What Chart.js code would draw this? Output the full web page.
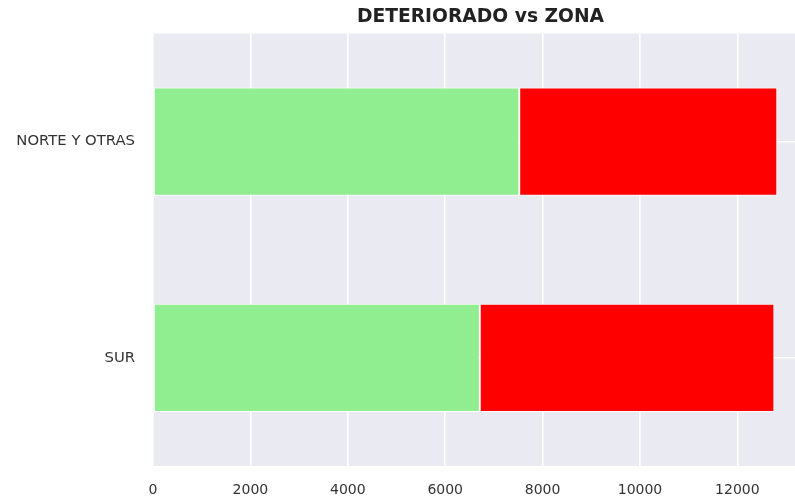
<!DOCTYPE html>
<html>
<head>
<meta charset="utf-8">
<script src="https://cdn.jsdelivr.net/npm/chart.js@4"></script>
<style>
  html, body { margin: 0; padding: 0; background: #ffffff; overflow: hidden; }
  #wrap { width: 795px; height: 499px; overflow: hidden; position: relative; }
  canvas { display: block; }
</style>
</head>
<body>
<div id="wrap"><canvas id="c" width="808" height="499"></canvas></div>
<script>
const categories = ['NORTE Y OTRAS', 'SUR'];
const greenValues = [7520, 6710];
const redValues = [5300, 6050];
const xTicks = [0, 2000, 4000, 6000, 8000, 10000, 12000];
const titleText = 'DETERIORADO vs ZONA';

const bgPlugin = {
  id: 'plotBg',
  beforeDraw(chart) {
    const a = chart.chartArea, ctx = chart.ctx;
    ctx.save();
    ctx.fillStyle = '#EAEAF2';
    ctx.fillRect(a.left, a.top, a.right - a.left, a.bottom - a.top);
    ctx.restore();
  }
};

new Chart(document.getElementById('c'), {
  type: 'bar',
  data: {
    labels: categories,
    datasets: [
      { label: 'green', data: greenValues, backgroundColor: '#90EE90', borderColor: '#ffffff', borderWidth: 1, borderSkipped: false },
      { label: 'red', data: redValues, backgroundColor: '#FF0000', borderColor: '#ffffff', borderWidth: 1, borderSkipped: false }
    ]
  },
  plugins: [bgPlugin],
  options: {
    responsive: false,
    animation: false,
    devicePixelRatio: 1,
    indexAxis: 'y',
    layout: { padding: 0 },
    datasets: { bar: { categoryPercentage: 1, barPercentage: 0.5 } },
    plugins: {
      legend: { display: false },
      tooltip: { enabled: false },
      title: {
        display: true,
        fullSize: false,
        text: titleText,
        color: '#222222',
        font: { family: 'DejaVu Sans', size: 18.7, weight: 'bold' },
        padding: { top: 6, bottom: 5 }
      }
    },
    scales: {
      x: {
        stacked: true,
        min: 0,
        max: 13450,
        border: { display: false },
        grid: { color: '#ffffff', lineWidth: 1.6, drawTicks: false },
        afterBuildTicks(scale) {
          scale.ticks = xTicks.map(v => ({ value: v }));
        },
        afterFit(scale) { scale.height = 33; },
        ticks: {
          padding: 16,
          color: '#333333',
          font: { family: 'DejaVu Sans', size: 14 },
          maxRotation: 0,
          callback: v => String(v)
        }
      },
      y: {
        stacked: true,
        border: { display: false },
        grid: { color: '#ffffff', lineWidth: 1.6, drawTicks: false, offset: false },
        afterFit(scale) { scale.width = 153; },
        ticks: {
          padding: 18,
          color: '#333333',
          font: { family: 'DejaVu Sans', size: 14.8 }
        }
      }
    }
  }
});
</script>
</body>
</html>
